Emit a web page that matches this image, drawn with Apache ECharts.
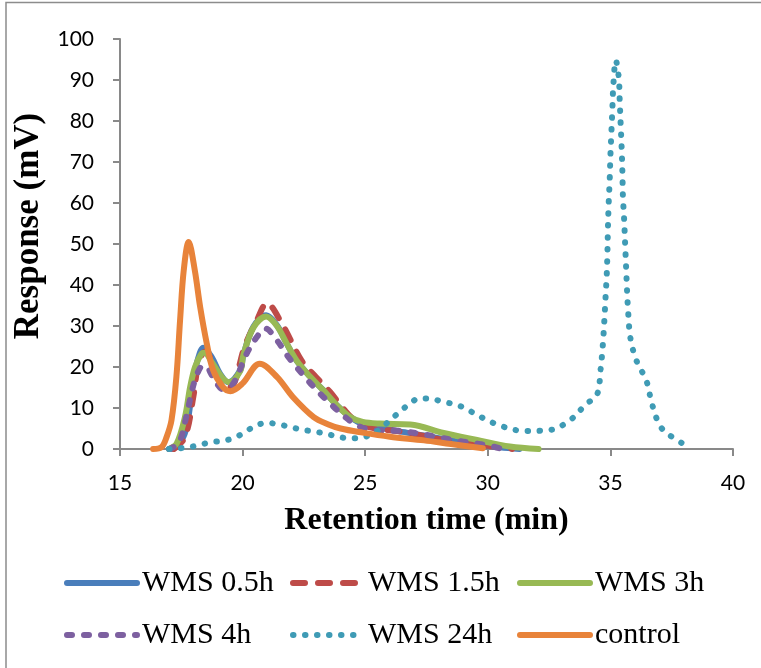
<!DOCTYPE html>
<html><head><meta charset="utf-8">
<script src="https://cdn.jsdelivr.net/npm/echarts@6/dist/echarts.min.js"></script>
<style>html,body{margin:0;padding:0;background:#fff}#c{width:761px;height:668px}</style>
</head><body><div id="c"></div>
<script>
// Retention time (min) / Response (mV) pairs
const wms05 = [[17.1,0],[17.58,2.9],[17.79,7.8],[17.99,16.8],[18.2,22.4],[18.4,24.7],[18.74,22.4],[19.08,18.4],[19.42,16.3],[19.9,19.2],[20.03,22.9],[20.44,29.8],[20.96,32.6],[21.4,30.2],[21.8,25.7],[22.2,21.6],[22.76,17.6],[23.3,14.3],[23.84,10.7],[24.39,7.8],[24.93,6.0],[25.6,5.2],[26.4,4.3],[27.4,3.3],[28.47,2.1],[29.5,1.2],[30.5,0.4],[31.3,0]];
const wms15 = [[17.2,0],[17.65,2.9],[17.99,12.7],[18.2,20.8],[18.47,23.7],[18.8,21],[19.1,17],[19.49,15.1],[20.1,25.3],[20.58,31.4],[20.99,35.5],[21.6,30.6],[22.4,21.6],[23.0,17.5],[23.57,13.9],[24.1,9.9],[24.66,6.6],[25.4,5.0],[26.4,4.3],[27.4,3.2],[28.3,2.1],[29.2,1.5],[30.1,0.7],[31.0,0]];
const wms3 = [[17.0,0],[17.31,1.3],[17.65,7.8],[17.86,15.1],[18.06,20.0],[18.33,23.3],[18.45,23.5],[18.74,21.2],[19.15,17.6],[19.45,16.3],[19.9,19.0],[20.03,22.9],[20.44,29.6],[20.96,32.3],[21.4,30.0],[21.8,25.7],[22.2,21.6],[22.76,17.6],[23.3,14.3],[23.84,10.7],[24.39,7.8],[24.9,6.6],[25.6,6.2],[26.84,6.0],[28.2,3.9],[29.56,2.2],[30.9,0.6],[32.07,0]];
const wms4 = [[17.0,0],[17.4,1.5],[17.7,7.8],[17.99,15.5],[18.27,19.8],[18.47,20.3],[18.8,17.5],[19.2,14.6],[19.6,15.8],[20.17,23.3],[20.58,27.3],[20.92,29.4],[21.4,26.5],[21.87,22.4],[22.48,18.0],[23.03,14.3],[23.57,11.1],[24.1,8.2],[24.66,5.8],[25.34,4.6],[26.43,4.4],[27.2,3.75],[28.06,2.8],[29.0,1.8],[30.0,0.9],[30.6,0]];
const wms24 = [[17.0,0],[17.8,0.4],[18.3,1.1],[18.75,1.7],[19.2,2.0],[19.65,2.7],[20.1,4.1],[20.5,5.6],[21.0,6.4],[21.45,6.0],[21.95,5.4],[22.4,4.7],[22.9,4.3],[23.4,3.7],[23.85,3.1],[24.3,2.6],[24.8,2.7],[25.25,3.6],[25.65,5.0],[26.0,7.0],[26.4,9.0],[26.8,11.0],[27.2,12.3],[27.65,12.3],[28.05,11.7],[28.9,10.4],[29.75,7.7],[30.6,5.5],[31.5,4.4],[32.5,4.6],[33.35,7.0],[34.0,10.9],[34.45,13.2],[34.6,19.4],[34.69,25.3],[34.75,31.0],[34.8,36.7],[34.85,42.4],[34.88,48.2],[34.9,54.1],[34.93,59.9],[34.97,65.5],[35.0,71.4],[35.04,77.1],[35.08,82.9],[35.12,88.7],[35.22,94.8],[35.34,90.7],[35.38,84.9],[35.42,79.0],[35.46,73.3],[35.49,67.4],[35.51,61.7],[35.56,56.0],[35.6,50.1],[35.64,44.4],[35.68,38.5],[35.73,32.9],[35.82,26.9],[36.06,21.6],[36.47,16.6],[36.7,10.9],[37.04,5.5],[37.5,3.0],[37.9,1.5]];
const control = [[16.35,0],[16.7,0.5],[16.9,2.9],[17.1,7.0],[17.3,17.6],[17.45,31.4],[17.6,43.6],[17.8,50.5],[18.05,43.6],[18.27,34.6],[18.54,25.7],[18.8,19.2],[19.2,15.1],[19.5,14.1],[20.0,16.0],[20.7,20.8],[21.4,17.6],[22.05,12.7],[22.9,7.8],[23.5,6.0],[24.0,5.0],[24.9,4.0],[26.0,3.0],[27.4,2.1],[28.5,1.2],[29.8,0.2]];
const xTicks = [15, 40, 5];
const yTicks = [0, 100, 10];
const names = ['WMS 0.5h','WMS 1.5h','WMS 3h','WMS 4h','WMS 24h','control'];

const colors = ['#4a7ebb','#be4b48','#98b954','#7d60a0','#3f9bb5','#e8833a'];
const dashes = ['solid',[12,13],'solid',[5,12],[0.5,11.5],'solid'];
const datas = [wms05, wms15, wms3, wms4, wms24, control];

const chart = echarts.init(document.getElementById('c'));
const axisCol = '#898989';
const legText = {fontFamily:'Liberation Serif', fontSize:30, color:'#000', padding:[0,0,0,0]};
const mkLegend = (left, data) => ({left, top:563, orient:'vertical', itemGap:22, itemWidth:70, itemHeight:14, data,
  textStyle:legText, itemStyle:{opacity:0}, lineStyle:{width:6}});
chart.setOption({
  animation:false,
  backgroundColor:'#fff',
  graphic:[{type:'rect', shape:{x:6,y:2.5,width:800,height:700}, style:{fill:'none', stroke:'#8c8c8c', lineWidth:1.5}, silent:true}],
  grid:{left:120, right:28, top:39, bottom:219},
  legend:[mkLegend(59,['WMS 0.5h','WMS 4h']), mkLegend(285,['WMS 1.5h','WMS 24h']), mkLegend(512,['WMS 3h','control'])],
  xAxis:{type:'value', min:xTicks[0], max:xTicks[1], interval:xTicks[2],
    name:'Retention time (min)', nameLocation:'middle', nameGap:56,
    nameTextStyle:{fontFamily:'Liberation Serif', fontWeight:'bold', fontSize:32, color:'#000'},
    axisLine:{lineStyle:{color:axisCol, width:2}}, axisTick:{show:true, inside:false, length:7, lineStyle:{color:axisCol, width:2}},
    axisLabel:{fontFamily:'Lato', fontSize:21, color:'#000', margin:24}, splitLine:{show:false}},
  yAxis:{type:'value', min:yTicks[0], max:yTicks[1], interval:yTicks[2],
    name:'Response (mV)', nameLocation:'middle', nameGap:68,
    nameTextStyle:{fontFamily:'Liberation Serif', fontWeight:'bold', fontSize:35, color:'#000', padding:[0,0,0,36]},
    axisLine:{show:true, lineStyle:{color:axisCol, width:2}}, axisTick:{show:true, inside:false, length:7, lineStyle:{color:axisCol, width:2}},
    axisLabel:{fontFamily:'Lato', fontSize:21, color:'#000', margin:26}, splitLine:{show:false}},
  series: names.map((n,i)=>({
    name:n, type:'line', data:datas[i], showSymbol:false, symbol:'none',
    smooth:0.35, z:2+i,
    lineStyle:{color:colors[i], width:6, type:dashes[i], cap:'round', join:'round'},
    itemStyle:{color:colors[i]}
  }))
});
</script></body></html>
